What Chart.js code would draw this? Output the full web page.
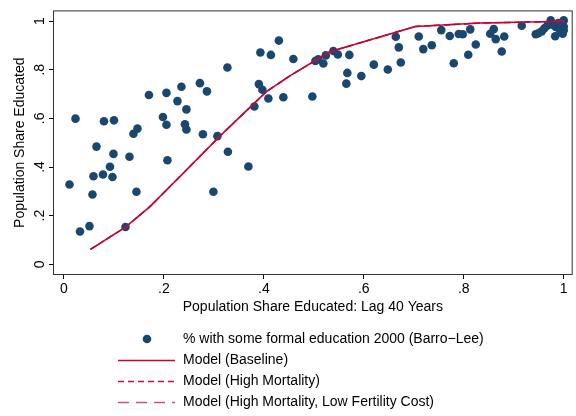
<!DOCTYPE html>
<html>
<head>
<meta charset="utf-8">
<script src="https://cdn.jsdelivr.net/npm/chart.js@4"></script>
<style>
  body { margin: 0; background: #fff; }
</style>
</head>
<body>
<canvas id="eduChart" width="576" height="416"></canvas>
<script>
// share educated in 2000 (Barro-Lee) against the share 40 years earlier
const eduLag = [0.011, 0.023, 0.032, 0.051, 0.057, 0.059, 0.065, 0.078, 0.080, 0.092,
                0.097, 0.099, 0.100, 0.123, 0.131, 0.139, 0.147, 0.145, 0.170, 0.198,
                0.205, 0.207, 0.205, 0.227, 0.235, 0.242, 0.245, 0.245, 0.272, 0.278,
                0.286, 0.299, 0.307, 0.327, 0.328, 0.369, 0.381, 0.390, 0.393, 0.397,
                0.409, 0.414, 0.430, 0.439, 0.459, 0.497, 0.503, 0.509, 0.519, 0.524,
                0.539, 0.548, 0.571, 0.567, 0.565, 0.595, 0.620, 0.648, 0.664, 0.670,
                0.674, 0.710, 0.719, 0.736, 0.755, 0.772, 0.780, 0.790, 0.798, 0.813,
                0.809, 0.824, 0.853, 0.860, 0.864, 0.876, 0.881, 0.916, 0.944, 0.949,
                0.956, 0.961, 0.967, 0.974, 0.983, 0.984, 0.989, 0.993, 0.998, 1.000,
                1.000, 1.000, 0.995, 0.978, 0.992];
const eduNow = [0.328, 0.599, 0.135, 0.157, 0.287, 0.362, 0.484, 0.369, 0.588, 0.401,
                0.359, 0.454, 0.592, 0.153, 0.442, 0.537, 0.558, 0.298, 0.696, 0.606,
                0.574, 0.428, 0.705, 0.671, 0.730, 0.576, 0.637, 0.554, 0.745, 0.535,
                0.711, 0.298, 0.527, 0.809, 0.463, 0.402, 0.649, 0.741, 0.871, 0.718,
                0.682, 0.861, 0.920, 0.687, 0.844, 0.690, 0.836, 0.843, 0.826, 0.859,
                0.877, 0.863, 0.861, 0.787, 0.743, 0.774, 0.821, 0.801, 0.936, 0.892,
                0.830, 0.937, 0.885, 0.901, 0.963, 0.939, 0.827, 0.947, 0.946, 0.966,
                0.862, 0.904, 0.948, 0.967, 0.926, 0.875, 0.937, 0.981, 0.946, 0.950,
                0.958, 0.970, 0.981, 1.003, 0.938, 0.976, 0.992, 0.958, 0.948, 1.003,
                0.978, 0.962, 0.990, 0.985, 0.972];

// model paths; the three runs lie on top of each other in the picture
const modelLag = [0.053, 0.123, 0.172, 0.239, 0.312, 0.405, 0.452, 0.532, 0.703, 0.832, 1.0];
const modelBaseline = [0.061, 0.153, 0.237, 0.375, 0.527, 0.710, 0.775, 0.874, 0.978, 0.992, 0.999];
const modelHighMort = [0.061, 0.153, 0.237, 0.375, 0.527, 0.710, 0.775, 0.874, 0.978, 0.992, 0.999];
const modelLowFert = [0.061, 0.153, 0.237, 0.375, 0.527, 0.710, 0.775, 0.874, 0.978, 0.992, 0.999];

const tickVals = [0, 0.2, 0.4, 0.6, 0.8, 1];
const tickLabels = ['0', '.2', '.4', '.6', '.8', '1'];

const FONT = '"Liberation Sans", Arial, Helvetica, sans-serif';
Chart.defaults.font.family = FONT;
Chart.defaults.font.size = 14;
Chart.defaults.color = '#000';

function pts(xs, ys) {
    return xs.map((x, i) => ({ x: x, y: ys[i] }));
}

// box around the plot region
const plotFrame = {
    id: 'plotFrame',
    beforeDatasetsDraw(chart) {
        const a = chart.chartArea;
        const ctx = chart.ctx;
        ctx.save();
        ctx.strokeStyle = '#333';
        ctx.lineWidth = 1;
        ctx.strokeRect(a.left - 0.5, a.top - 0.5, a.right - a.left + 1, a.bottom - a.top + 1);
        ctx.restore();
    }
};

// one legend row per series, stacked under the axis title
const stackedLegend = {
    id: 'stackedLegend',
    afterDraw(chart) {
        const ctx = chart.ctx;
        const rows = [339, 360, 381, 402];
        const order = [3, 0, 1, 2];
        order.forEach((di, r) => {
            const ds = chart.data.datasets[di];
            const y = rows[r];
            ctx.save();
            if (ds.showLine) {
                ctx.strokeStyle = ds.borderColor;
                ctx.lineWidth = ds.borderWidth;
                ctx.setLineDash(ds.borderDash || []);
                ctx.beginPath();
                ctx.moveTo(118, y + 0.5);
                ctx.lineTo(175, y + 0.5);
                ctx.stroke();
                ctx.setLineDash([]);
            } else {
                ctx.fillStyle = ds.backgroundColor;
                ctx.beginPath();
                ctx.arc(147, y, 4.3, 0, Math.PI * 2);
                ctx.fill();
            }
            ctx.fillStyle = '#000';
            ctx.font = '14px ' + FONT;
            ctx.textAlign = 'left';
            ctx.textBaseline = 'middle';
            ctx.fillText(ds.label, 183, y);
            ctx.restore();
        });
    }
};

const ctx = document.getElementById('eduChart').getContext('2d');
const eduChart = new Chart(ctx, {
    type: 'scatter',
    data: {
        datasets: [
            {
                label: 'Model (Baseline)',
                data: pts(modelLag, modelBaseline),
                showLine: true,
                borderColor: '#c10534',
                borderWidth: 1.5,
                pointRadius: 0,
                order: 0
            },
            {
                label: 'Model (High Mortality)',
                data: pts(modelLag, modelHighMort),
                showLine: true,
                borderColor: '#c8103c',
                borderWidth: 1.5,
                borderDash: [6, 4],
                pointRadius: 0,
                order: 1
            },
            {
                label: 'Model (High Mortality, Low Fertility Cost)',
                data: pts(modelLag, modelLowFert),
                showLine: true,
                borderColor: '#d4506e',
                borderWidth: 1.5,
                borderDash: [11, 7],
                pointRadius: 0,
                order: 2
            },
            {
                label: '% with some formal education 2000 (Barro\u2212Lee)',
                data: pts(eduLag, eduNow),
                backgroundColor: '#1a476f',
                borderWidth: 0,
                pointRadius: 4.3,
                order: 3
            }
        ]
    },
    options: {
        responsive: false,
        animation: false,
        devicePixelRatio: 1,
        layout: { padding: { top: 8, right: 4, left: 0, bottom: 96 } },
        plugins: {
            legend: { display: false },
            tooltip: { enabled: false }
        },
        scales: {
            x: {
                type: 'linear',
                min: -0.02,
                max: 1.016,
                afterFit: s => { s.height = 46; },
                afterBuildTicks: s => { s.ticks = tickVals.map(v => ({ value: v })); },
                ticks: {
                    callback: (v, i) => tickLabels[i],
                    padding: 2,
                    maxRotation: 0,
                    autoSkip: false
                },
                grid: { drawOnChartArea: false, tickLength: 5, color: '#000' },
                border: { display: false },
                title: {
                    display: true,
                    text: 'Population Share Educated: Lag 40 Years',
                    padding: { top: 0, bottom: 4 }
                }
            },
            y: {
                type: 'linear',
                min: -0.04,
                max: 1.04,
                afterFit: s => { s.width = 54; },
                afterBuildTicks: s => { s.ticks = tickVals.map(v => ({ value: v })); },
                ticks: {
                    callback: (v, i) => tickLabels[i],
                    padding: 3,
                    minRotation: 90,
                    maxRotation: 90,
                    crossAlign: 'center',
                    autoSkip: false
                },
                grid: { drawOnChartArea: false, tickLength: 5, color: '#000' },
                border: { display: false },
                title: {
                    display: true,
                    text: 'Population Share Educated',
                    padding: { top: 12, bottom: 0 }
                }
            }
        }
    },
    plugins: [plotFrame, stackedLegend]
});
</script>
</body>
</html>
